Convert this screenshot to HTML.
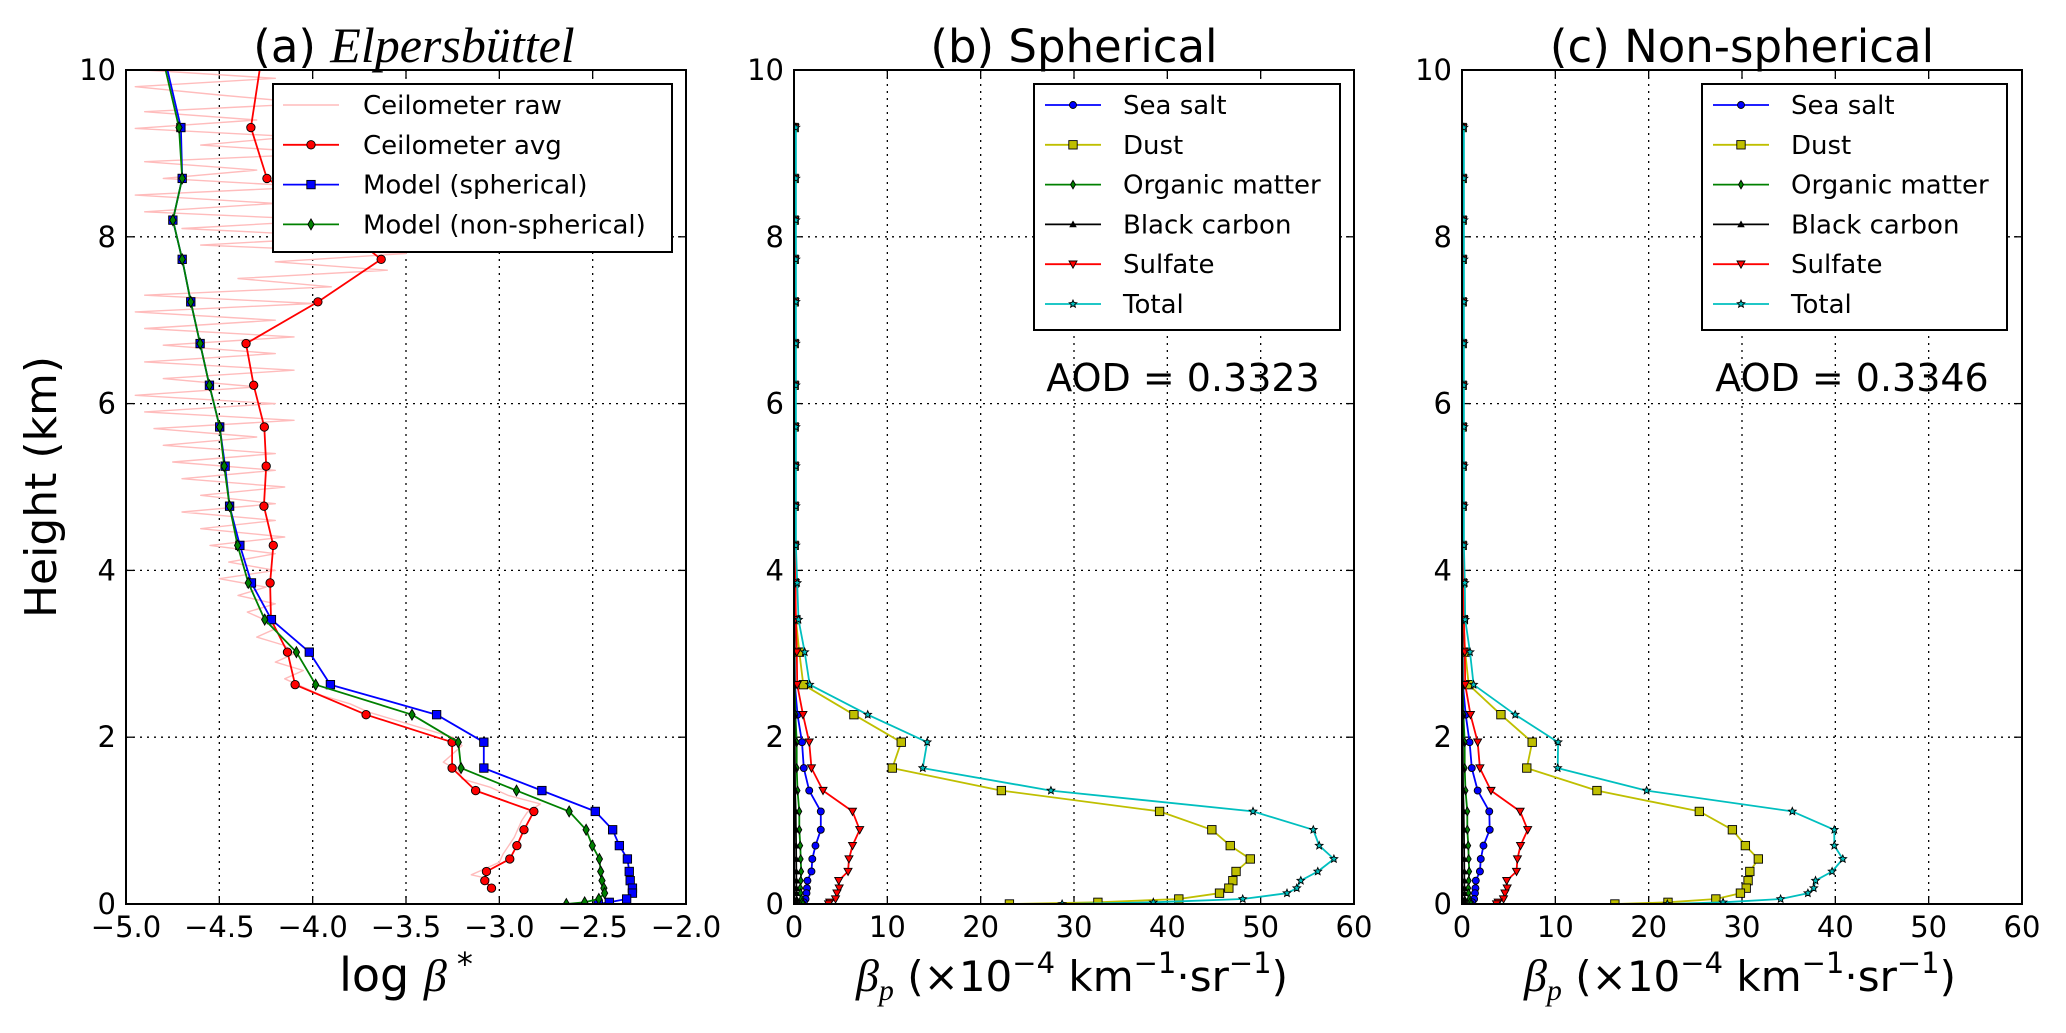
<!DOCTYPE html>
<html><head><meta charset="utf-8"><style>
html,body{margin:0;padding:0;background:#fff;}
svg{display:block;font-family:"DejaVu Sans","Liberation Sans",sans-serif;}
</style></head><body>
<svg id="fig" width="2066" height="1033" viewBox="0 0 2066 1033" xmlns="http://www.w3.org/2000/svg">
<rect width="2066" height="1033" fill="#fff"/>
<defs>
<clipPath id="ca"><rect x="126" y="70" width="560" height="834"/></clipPath>
<clipPath id="cb"><rect x="794" y="70" width="560" height="834"/></clipPath>
<clipPath id="cc"><rect x="1462" y="70" width="560" height="834"/></clipPath>
</defs>
<g id="layer"></g>
</svg>
<script>
// ---------- data ----------
const levels = [9.31,8.70,8.20,7.73,7.22,6.72,6.22,5.72,5.25,4.77,4.30,3.85,3.41,3.02,2.63,2.27,1.94,1.63,1.36,1.11,0.89,0.70,0.54,0.39,0.28,0.19,0.13,0.06,0.02,0.0];
const ceilAvg = [-4.331,-4.245,-3.9,-3.633,-3.972,-4.357,-4.316,-4.259,-4.249,-4.261,-4.211,-4.228,-4.223,-4.135,-4.094,-3.714,-3.253,-3.253,-3.127,-2.815,-2.868,-2.906,-2.944,-3.069,-3.078,-3.042];
const modelSph = [-4.706,-4.699,-4.749,-4.699,-4.653,-4.603,-4.553,-4.498,-4.469,-4.445,-4.390,-4.328,-4.221,-4.018,-3.905,-3.336,-3.083,-3.083,-2.772,-2.486,-2.393,-2.357,-2.314,-2.304,-2.299,-2.287,-2.287,-2.318,-2.411,-2.47];
const modelNon = [-4.716,-4.699,-4.749,-4.699,-4.653,-4.603,-4.553,-4.498,-4.474,-4.445,-4.402,-4.345,-4.257,-4.087,-3.984,-3.468,-3.220,-3.205,-2.908,-2.626,-2.535,-2.502,-2.464,-2.457,-2.450,-2.440,-2.436,-2.467,-2.543,-2.641];
const topHeight = 10.5;
const topCeil = -4.25, topSph = -4.83, topNon = -4.84;
const rawHeights = [10.0,9.9,9.8,9.7,9.6,9.5,9.4,9.3,9.2,9.1,9.0,8.9,8.8,8.7,8.6,8.5,8.4,8.3,8.2,8.1,8.0,7.9,7.8,7.7,7.6,7.5,7.4,7.3,7.2,7.1,7.0,6.9,6.8,6.7,6.6,6.5,6.4,6.3,6.2,6.1,6.0,5.9,5.8,5.7,5.6,5.5,5.4,5.3,5.2,5.1,5.0,4.9,4.8,4.7,4.6,4.5,4.4,4.3,4.2,4.1,4.0,3.9,3.8,3.7,3.6,3.5,3.4,3.3,3.2,3.1,3.0,2.9,2.8,2.7,2.6,2.5,2.4,2.3,2.2,2.1,2.0,1.9,1.8,1.7,1.6,1.5,1.4,1.3,1.2,1.1,1.0,0.9,0.8,0.7,0.6,0.5,0.4,0.35,0.3];
const rawValues = [-4.9,-4.2,-4.95,-4.5,-4.0,-4.9,-4.3,-4.95,-4.1,-4.6,-3.9,-4.9,-4.3,-4.8,-4.0,-4.95,-4.2,-4.9,-3.9,-4.7,-3.8,-4.6,-3.5,-4.2,-3.6,-4.4,-3.9,-4.9,-4.0,-4.95,-4.2,-4.9,-4.1,-4.8,-4.2,-4.9,-4.1,-4.8,-4.3,-4.95,-4.2,-4.9,-4.1,-4.85,-4.3,-4.8,-4.2,-4.75,-4.2,-4.7,-4.15,-4.6,-4.2,-4.7,-4.2,-4.6,-4.15,-4.55,-4.2,-4.45,-4.2,-4.5,-4.25,-4.4,-4.2,-4.35,-4.25,-4.2,-4.3,-4.15,-4.1,-4.2,-4.05,-4.15,-4.05,-3.95,-3.8,-3.7,-3.55,-3.4,-3.25,-3.2,-3.25,-3.3,-3.22,-3.2,-3.05,-2.95,-2.78,-2.85,-2.88,-2.9,-2.92,-2.95,-2.98,-3.0,-3.1,-3.15,-3.05];

const seaB   = [0.02,0.02,0.02,0.02,0.02,0.02,0.02,0.02,0.02,0.02,0.02,0.03,0.05,0.07,0.1,0.38,0.86,1.05,1.63,2.87,2.87,2.3,1.96,1.87,1.44,1.39,1.34,1.24,1.05,0.9];
const dustB  = [0.02,0.02,0.02,0.02,0.02,0.02,0.02,0.02,0.02,0.02,0.02,0.05,0.2,0.57,1.0,6.42,11.49,10.53,22.22,39.17,44.77,46.74,48.89,47.36,47.02,46.59,45.59,41.23,32.56,23.08];
const orgB   = [0.01,0.01,0.01,0.01,0.01,0.01,0.01,0.01,0.01,0.01,0.01,0.02,0.03,0.05,0.08,0.15,0.29,0.29,0.38,0.57,0.57,0.67,0.72,0.77,0.72,0.67,0.7,0.8,0.86,0.96];
const bcB    = [0.005,0.005,0.005,0.005,0.005,0.005,0.005,0.005,0.005,0.005,0.01,0.01,0.02,0.03,0.04,0.05,0.08,0.1,0.12,0.18,0.2,0.22,0.24,0.25,0.25,0.25,0.26,0.28,0.3,0.3];
const sulfB  = [0.1,0.1,0.1,0.1,0.1,0.1,0.1,0.1,0.1,0.1,0.1,0.15,0.2,0.3,0.34,0.96,1.63,1.87,3.11,6.27,7.04,6.27,5.89,5.79,4.79,4.84,4.6,4.45,3.83,3.7];
const totalB = [0.2,0.2,0.2,0.2,0.2,0.2,0.2,0.2,0.2,0.2,0.2,0.34,0.48,1.15,1.68,7.9,14.27,13.79,27.53,49.18,55.64,56.27,57.85,56.12,54.3,53.87,52.82,48.08,38.5,28.73];

const seaC   = [0.02,0.02,0.02,0.02,0.02,0.02,0.02,0.02,0.02,0.02,0.02,0.03,0.05,0.07,0.1,0.4,0.81,1.05,1.68,2.92,2.97,2.3,2.01,1.92,1.48,1.44,1.39,1.3,1.1,0.95];
const dustC  = [0.02,0.02,0.02,0.02,0.02,0.02,0.02,0.02,0.02,0.02,0.02,0.05,0.15,0.34,0.72,4.17,7.52,6.94,14.46,25.43,28.97,30.36,31.75,30.84,30.65,30.45,29.83,27.2,22.07,16.38];
const orgC   = [0.01,0.01,0.01,0.01,0.01,0.01,0.01,0.01,0.01,0.01,0.01,0.02,0.03,0.05,0.08,0.15,0.29,0.29,0.38,0.57,0.57,0.67,0.72,0.77,0.72,0.67,0.7,0.8,0.86,0.96];
const bcC    = [0.005,0.005,0.005,0.005,0.005,0.005,0.005,0.005,0.005,0.005,0.01,0.01,0.02,0.03,0.04,0.05,0.08,0.1,0.12,0.18,0.2,0.22,0.24,0.25,0.25,0.25,0.26,0.28,0.3,0.3];
const sulfC  = [0.1,0.1,0.1,0.1,0.1,0.1,0.1,0.1,0.1,0.1,0.1,0.15,0.2,0.3,0.34,0.91,1.68,1.92,3.11,6.23,7.04,6.27,5.94,5.84,4.79,4.84,4.6,4.45,3.88,3.7];
const totalC = [0.2,0.2,0.2,0.2,0.2,0.2,0.2,0.2,0.2,0.2,0.2,0.3,0.34,0.86,1.24,5.7,10.3,10.25,19.78,35.39,39.89,39.89,40.8,39.65,37.88,37.69,37.06,34.14,27.97,22.0];

const xTicksA = [-5.0,-4.5,-4.0,-3.5,-3.0,-2.5,-2.0];
const xTickLabelsA = ["\u22125.0","\u22124.5","\u22124.0","\u22123.5","\u22123.0","\u22122.5","\u22122.0"];
const xTicksBC = [0,10,20,30,40,50,60];
const yTicks = [0,2,4,6,8,10];

// ---------- drawing ----------
const NS = "http://www.w3.org/2000/svg";
const layer = document.getElementById("layer");
const Y0 = 904, Y1 = 70;
function mk(tag, attrs, parent){
  const e = document.createElementNS(NS, tag);
  for (const k in attrs) e.setAttribute(k, attrs[k]);
  (parent||layer).appendChild(e);
  return e;
}
function makeAxis(left, xmin, xmax){
  return {left:left, right:left+560,
    x:v=>left + (v-xmin)/(xmax-xmin)*560,
    y:v=>Y0 - v/10*(Y0-Y1)};
}
const axA = makeAxis(126,-5,-2), axB = makeAxis(794,0,60), axC = makeAxis(1462,0,60);

function drawFrame(ax, name, xt, xl){
  const g = mk("g",{});
  
  
  xt.forEach((v,i)=>{
    const X = ax.x(v);
    if (i>0 && i<xt.length-1){
      const gl = mk("line",{x1:X,y1:Y1,x2:X,y2:Y0,stroke:"#000","stroke-width":1.3,"stroke-dasharray":"2,5"},g);
      
      
    }
    mk("line",{x1:X,y1:Y0,x2:X,y2:Y0-8,stroke:"#000","stroke-width":1.3},g);
    mk("line",{x1:X,y1:Y1,x2:X,y2:Y1+8,stroke:"#000","stroke-width":1.3},g);
    const t = mk("text",{x:X,y:937,"font-size":29,"text-anchor":"middle",fill:"#000"},g);
    t.textContent = xl[i];
    
    
  });
  yTicks.forEach((v,i)=>{
    const Y = ax.y(v);
    if (i>0 && i<yTicks.length-1){
      const gl = mk("line",{x1:ax.left,y1:Y,x2:ax.right,y2:Y,stroke:"#000","stroke-width":1.3,"stroke-dasharray":"2,5"},g);
      
      
    }
    mk("line",{x1:ax.left,y1:Y,x2:ax.left+8,y2:Y,stroke:"#000","stroke-width":1.3},g);
    mk("line",{x1:ax.right,y1:Y,x2:ax.right-8,y2:Y,stroke:"#000","stroke-width":1.3},g);
    const t = mk("text",{x:ax.left-10,y:Y+10,"font-size":29,"text-anchor":"end",fill:"#000"},g);
    t.textContent = String(v);
    
    
  });
}
function marker(type, X, Y, color, s, parent){
  let e;
  if (type==='o') e = mk("circle",{cx:X,cy:Y,r:s},parent);
  else if (type==='s') e = mk("rect",{x:X-s,y:Y-s,width:2*s,height:2*s},parent);
  else if (type==='d') e = mk("polygon",{points:`${X},${Y-s*1.3} ${X+s*0.75},${Y} ${X},${Y+s*1.3} ${X-s*0.75},${Y}`},parent);
  else if (type==='^') e = mk("polygon",{points:`${X},${Y-s} ${X+s},${Y+s*0.8} ${X-s},${Y+s*0.8}`},parent);
  else if (type==='v') e = mk("polygon",{points:`${X},${Y+s} ${X+s},${Y-s*0.8} ${X-s},${Y-s*0.8}`},parent);
  else if (type==='*'){
    let p=[];
    for(let k=0;k<10;k++){const a=-Math.PI/2+k*Math.PI/5;const r=k%2?s*0.45:s;p.push((X+r*Math.cos(a)).toFixed(1)+","+(Y+r*Math.sin(a)).toFixed(1));}
    e = mk("polygon",{points:p.join(" ")},parent);
  }
  e.setAttribute("fill",color); e.setAttribute("stroke","#000"); e.setAttribute("stroke-width",0.9);
  return e;
}
function drawSeries(ax, clip, name, hs, vs, color, mtype, msize, top){
  const g = mk("g",{"clip-path":`url(#${clip})`});
  
  
  let pts = [];
  if (top) pts.push(ax.x(top[1]).toFixed(1)+","+ax.y(top[0]).toFixed(1));
  vs.forEach((v,i)=>pts.push(ax.x(v).toFixed(1)+","+ax.y(hs[i]).toFixed(1)));
  const pl = mk("polyline",{points:pts.join(" "),fill:"none",stroke:color,"stroke-width":mtype?1.8:1.4,"stroke-linejoin":"round"},g);
  
  
  if (mtype) vs.forEach((v,i)=>{
    const m = marker(mtype, ax.x(v), ax.y(hs[i]), color, msize, g);
    
    
  });
}
function drawBorder(ax, name){
  const r = mk("rect",{x:ax.left,y:Y1,width:560,height:Y0-Y1,fill:"none",stroke:"#000","stroke-width":2});
  
  
}
function drawLegend(name, x, y, w, h, entries, sampleX, textX){
  const g = mk("g",{});
  
  
  mk("rect",{x:x,y:y,width:w,height:h,fill:"#fff",stroke:"#000","stroke-width":2},g);
  entries.forEach((en,i)=>{
    const Y = y+21+i*39.8;
    const eg = mk("g",{},g);
    
    
    mk("line",{x1:sampleX,y1:Y,x2:sampleX+56,y2:Y,stroke:en.color,"stroke-width":en.m?1.8:1.4},eg);
    if (en.m) marker(en.m, sampleX+28, Y, en.color, en.ms, eg);
    const t = mk("text",{x:textX,y:Y+9,"font-size":26,fill:"#000"},eg);
    t.textContent = en.label;
  });
}
function txt(x,y,size,anchor,str,name,extra){
  const t = mk("text",Object.assign({x:x,y:y,"font-size":size,"text-anchor":anchor,fill:"#000"},extra||{}));
  t.textContent = str;
  
  
  return t;
}

// Panel A
drawFrame(axA,"panel-a",xTicksA,xTickLabelsA);
drawSeries(axA,"ca","ceilometer-raw",rawHeights,rawValues,"#ffbcbc",null,0,null);
drawSeries(axA,"ca","ceilometer-avg",levels.slice(0,ceilAvg.length),ceilAvg,"#ff0000","o",4.2,[topHeight,topCeil]);
drawSeries(axA,"ca","model-spherical",levels,modelSph,"#0000ff","s",4.2,[topHeight,topSph]);
drawSeries(axA,"ca","model-non-spherical",levels,modelNon,"#008000","d",4.2,[topHeight,topNon]);
drawBorder(axA,"panel-a");
drawLegend("panel-a-legend",273,84,399,168,[
 {key:"ceilometer-raw",label:"Ceilometer raw",color:"#ffbcbc",m:null},
 {key:"ceilometer-avg",label:"Ceilometer avg",color:"#ff0000",m:"o",ms:4.2},
 {key:"model-spherical",label:"Model (spherical)",color:"#0000ff",m:"s",ms:4.2},
 {key:"model-non-spherical",label:"Model (non-spherical)",color:"#008000",m:"d",ms:4.2}],283,363);

// Panels B, C
function compPanel(ax, clip, p, sea, dust, org, bc, sulf, total){
  drawFrame(ax,p,xTicksBC,xTicksBC.map(String));
  drawSeries(ax,clip,p+"-sea-salt",levels,sea,"#0000ff","o",3.5,null);
  drawSeries(ax,clip,p+"-dust",levels,dust,"#bfbf00","s",4.2,null);
  drawSeries(ax,clip,p+"-organic-matter",levels,org,"#008000","d",3.3,null);
  drawSeries(ax,clip,p+"-black-carbon",levels,bc,"#000000","^",3,null);
  drawSeries(ax,clip,p+"-sulfate",levels,sulf,"#ff0000","v",4,null);
  drawSeries(ax,clip,p+"-total",levels,total,"#00bfbf","*",4,null);
  drawBorder(ax,p);
}
compPanel(axB,"cb","panel-b",seaB,dustB,orgB,bcB,sulfB,totalB);
compPanel(axC,"cc","panel-c",seaC,dustC,orgC,bcC,sulfC,totalC);
const compEntries = [
 {key:"sea-salt",label:"Sea salt",color:"#0000ff",m:"o",ms:3.5},
 {key:"dust",label:"Dust",color:"#bfbf00",m:"s",ms:4.2},
 {key:"organic-matter",label:"Organic matter",color:"#008000",m:"d",ms:3.3},
 {key:"black-carbon",label:"Black carbon",color:"#000000",m:"^",ms:3},
 {key:"sulfate",label:"Sulfate",color:"#ff0000",m:"v",ms:4},
 {key:"total",label:"Total",color:"#00bfbf",m:"*",ms:4}];
drawLegend("panel-b-legend",1034,84,306,246,compEntries,1045,1123);
drawLegend("panel-c-legend",1702,84,305,246,compEntries,1713,1791);

// Titles & labels
const ta = txt(414,62,45,"middle","","panel-a-title");
ta.innerHTML = '(a) <tspan font-family="Liberation Serif,serif" font-style="italic" font-size="50">Elpersbüttel</tspan>';
txt(1074,62,45,"middle","(b) Spherical","panel-b-title");
txt(1742,62,45,"middle","(c) Non-spherical","panel-c-title");
txt(1183,391,38,"middle","AOD = 0.3323","panel-b-aod");
txt(1852,391,38,"middle","AOD = 0.3346","panel-c-aod");
txt(56,487,44,"middle","Height (km)","y-axis-title",{transform:"rotate(-90 56 487)"});
const xa = txt(406,991,46,"middle","","panel-a-x-axis-title");
xa.innerHTML = 'log <tspan font-family="Liberation Serif,serif" font-style="italic">β</tspan><tspan font-size="32" dy="-16"> *</tspan>';
function betaLabel(cx,name){
  const t = txt(cx,991,42,"middle","",name);
  t.innerHTML = '<tspan font-family="Liberation Serif,serif" font-style="italic" font-size="46">β</tspan><tspan font-family="Liberation Serif,serif" font-style="italic" font-size="30" dy="9">p</tspan><tspan dy="-9"> (×10</tspan><tspan font-size="29" dy="-18">−4</tspan><tspan dy="18"> km</tspan><tspan font-size="29" dy="-18">−1</tspan><tspan dy="18">·sr</tspan><tspan font-size="29" dy="-18">−1</tspan><tspan dy="18">)</tspan>';
}
betaLabel(1072,"panel-b-x-axis-title");
betaLabel(1740,"panel-c-x-axis-title");
</script>
</body></html>
